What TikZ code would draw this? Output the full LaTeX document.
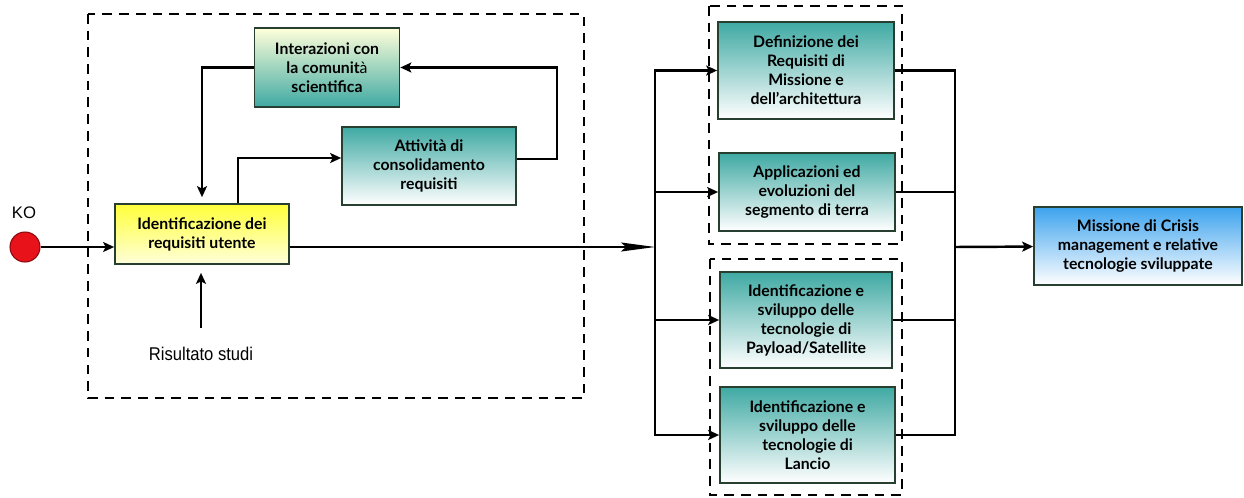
\documentclass[tikz,border=0pt]{standalone}
\usepackage{fontspec}
\setmainfont{Liberation Sans}
\newfontfamily\boxfont{Lato}
\usetikzlibrary{arrows.meta}
\definecolor{edgecol}{HTML}{263F30}
\definecolor{tealcol}{HTML}{3FA9A3}
\definecolor{yelcol}{HTML}{FFFF3A}
\definecolor{paleyel}{HTML}{FFFFDA}
\definecolor{skycol}{HTML}{3DA3EE}
\definecolor{kored}{HTML}{E8121B}
\tikzset{
  box/.style={draw=edgecol, line width=1pt, align=center, inner sep=0pt,
    font=\boxfont\bfseries\fontsize{9}{10.8}\selectfont},
  tealbox/.style={box, top color=tealcol, bottom color=white},
  dbox/.style={draw=black, line width=1.4pt, dash pattern=on 5.5pt off 4pt},
  arr/.style={line width=1.4pt, -{Stealth[length=0.22cm,width=0.2cm,inset=0.05cm]}},
  thk/.style={line width=1.4pt},
  lbl/.style={font=\fontsize{9.5}{11}\selectfont}
}
\begin{document}
\begin{tikzpicture}[x=0.02cm,y=-0.02cm]
  \useasboundingbox (0,0) rectangle (1244,497);
  \draw[dbox] (88,14) rectangle (584,398);
  \draw[dbox] (709,6) rectangle (902,244);
  \draw[dbox] (710,259) rectangle (902,495);

  \node[circle, fill=kored, draw=kored!60!black, line width=0.6pt, minimum size=0.6cm] (ko) at (25,247) {};
  \node[lbl] (kol) at (24,213) {KO};
  \node[lbl, font=\fontsize{10.5}{12}\selectfont] (stu) at (201,354) {\scalebox{0.9}[1]{Risultato studi}};
  \node[box, top color=yelcol, bottom color=paleyel, minimum width=3.48cm, minimum height=1.2cm]
    (req) at (202,234) {Identificazione dei\\requisiti utente};
  \node[box, top color=paleyel, bottom color=tealcol, minimum width=2.9cm, minimum height=1.58cm]
    (int) at (327,67.5) {Interazioni con\\la comunit{\mdseries à}\\scientifica};
  \node[tealbox, minimum width=3.48cm, minimum height=1.56cm]
    (att) at (429,166) {Attività di\\consolidamento\\requisiti};
  \coordinate (fb) at (557,67.5);
  \coordinate (sp) at (655,247);
  \coordinate (mg) at (955,247);
  \node[tealbox, minimum width=3.52cm, minimum height=1.94cm]
    (def) at (806,70.5) {Definizione dei\\Requisiti di\\Missione e\\dell’architettura};
  \node[tealbox, minimum width=3.52cm, minimum height=1.56cm]
    (app) at (807,192) {Applicazioni ed\\evoluzioni del\\segmento di terra};
  \node[tealbox, minimum width=3.44cm, minimum height=1.92cm]
    (pay) at (806,320) {Identificazione e\\sviluppo delle\\tecnologie di\\Payload/Satellite};
  \node[tealbox, minimum width=3.5cm, minimum height=1.92cm]
    (lan) at (807.5,435) {Identificazione e\\sviluppo delle\\tecnologie di\\Lancio};
  \node[box, top color=skycol, bottom color=white, minimum width=4.16cm, minimum height=1.56cm]
    (fin) at (1138,246) {Missione di Crisis\\management e relative\\tecnologie sviluppate};

  \draw[arr] (ko) -- (req.west |- ko);
  \draw[arr, shorten <=0.26cm, shorten >=0.16cm] (stu.north) -- (req.south -| stu.north);
  \draw[arr, shorten >=0.12cm] (int.west) -| (req.north);
  \draw[arr] ([xshift=0.72cm]req.north) |- ([yshift=0.16cm]att.west);
  \draw[arr] ([yshift=0.14cm]att.east) -| (fb) -- (int.east);
  \draw[line width=0.8pt, -{Stealth[length=0.68cm,width=0.18cm,inset=0.1cm]}] (req.east |- ko) -- (sp);
  \draw[arr] (sp) |- (def);
  \draw[arr] (sp) |- (app);
  \draw[arr] (sp) |- (pay);
  \draw[arr] (sp) |- (lan);
  \draw[thk] (def.east) -| (mg);
  \draw[thk] (app.east) -| (mg);
  \draw[thk] (pay.east) -| (mg);
  \draw[thk] (lan.east) -| (mg);
  \draw[arr] (mg) -- (fin);
\end{tikzpicture}
\end{document}
